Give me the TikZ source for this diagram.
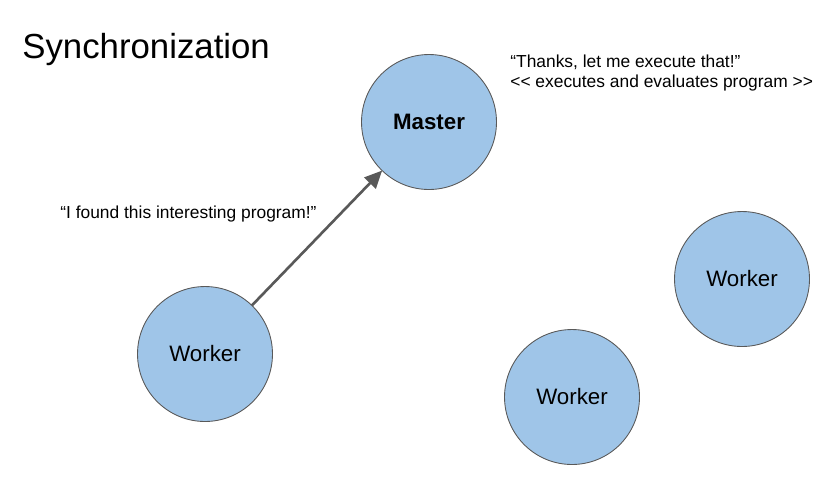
\documentclass[tikz,border=0pt]{standalone}
\usepackage{fontspec}
\setmainfont{Liberation Sans}
\usetikzlibrary{arrows.meta}
\definecolor{nodeblue}{HTML}{9FC5E8}
\definecolor{edgegray}{HTML}{595959}
\begin{document}
\begin{tikzpicture}[x=0.02cm,y=-0.02cm,
	proc/.style={shape=circle,draw=edgegray,line width=0.5pt,fill=nodeblue,minimum size=2.7cm,inner sep=0pt,outer sep=0pt,font=\fontsize{12.7}{15}\selectfont},
	say/.style={anchor=west,inner sep=0pt,font=\fontsize{9.9}{11.6}\selectfont,align=left}]
	\useasboundingbox (0,0) rectangle (834,478);
	\node (title) [anchor=west,inner sep=0pt,font=\fontsize{19.8}{24}\selectfont] at (22,49) {Synchronization};
	\node (master) [proc,font=\fontsize{12.7}{15}\selectfont\bfseries] at (429,122) {Master};
	\node (w1) [proc] at (205,354) {Worker};
	\node (w2) [proc] at (742,279) {Worker};
	\node (w3) [proc] at (572,397) {Worker};
	\node (found) [say] at (60,214) {“I found this interesting program!”};
	\node (thanks) [say] at (510,73) {“Thanks, let me execute that!”\\{<}{<} executes and evaluates program {>}{>}};
	\draw [-{Triangle[length=10pt,width=9pt]},draw=edgegray,fill=edgegray,line width=1.5pt] (w1) -- (master);
\end{tikzpicture}
\end{document}
